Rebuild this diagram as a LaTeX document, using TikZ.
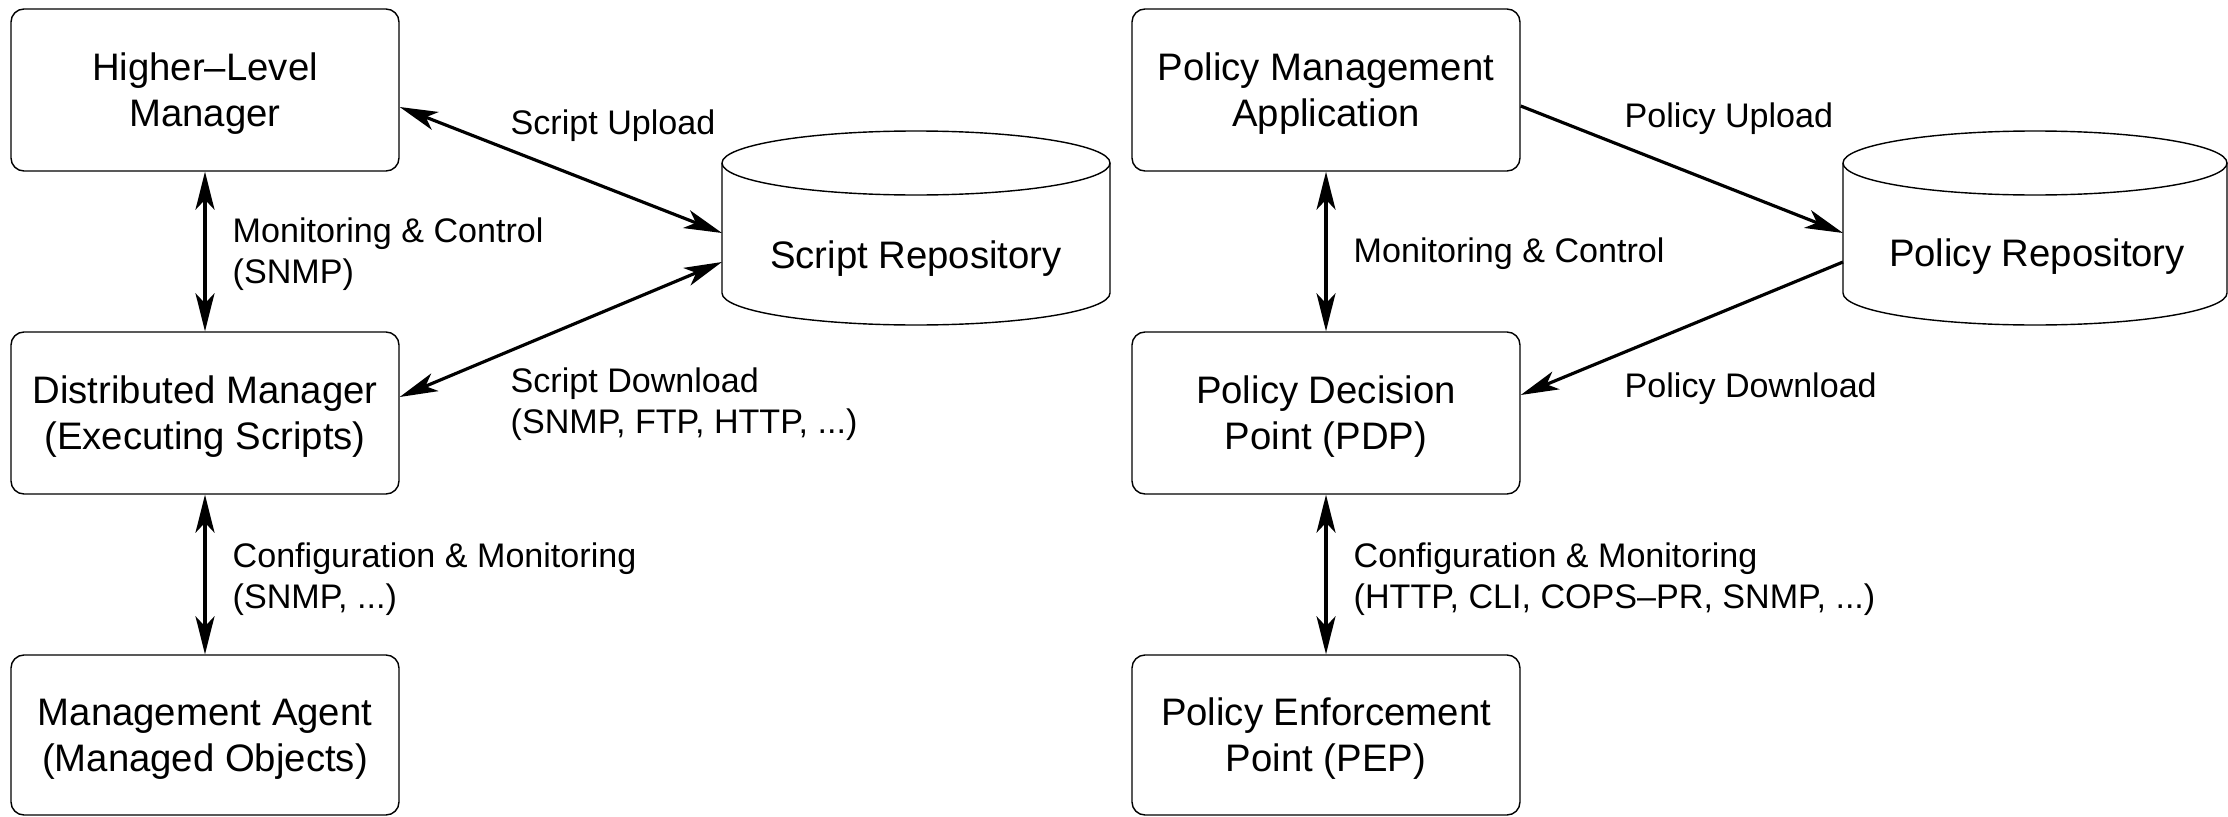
\documentclass[tikz,border=0pt]{standalone}
\usepackage{fontspec}
\setmainfont{Liberation Sans}
\usetikzlibrary{arrows.meta}

\begin{document}
\begin{tikzpicture}[
        >={Stealth[length=3.8mm,width=1.9mm,inset=1mm]},
        box/.style={draw, line width=0.4pt, rounded corners=1.3mm, minimum width=3.88cm, minimum height=1.62cm, align=center, inner sep=0pt, text height=23.3pt, text depth=2.3pt, font=\fontsize{10.9pt}{13.1pt}\selectfont},
        repotext/.style={inner sep=0pt, font=\fontsize{10.9pt}{13.1pt}\selectfont},
        lbl/.style={anchor=west, inner sep=0pt, align=left, font=\fontsize{9.7pt}{11.65pt}\selectfont},
        link/.style={line width=0.9pt, <->},
        push/.style={line width=0.9pt, ->},
    ]
        \useasboundingbox (0,0) rectangle (22.28,8.16);

        % Script based management (left)
        \node[box] (hlm) at (2.05,7.26) {Higher–Level\\Manager};
        \node[box] (dm) at (2.05,4.03) {Distributed Manager\\(Executing Scripts)};
        \node[box, minimum height=1.6cm] (ma) at (2.05,0.81) {Management Agent\\(Managed Objects)};

        % script repository drum
        \draw[line width=0.4pt] (9.16,6.53) ellipse [x radius=1.94, y radius=0.32];
        \draw[line width=0.4pt] (7.22,6.53) -- (7.22,5.23) arc [start angle=180, end angle=360, x radius=1.94, y radius=0.32] -- (11.10,6.53);
        \node[repotext] (srep) at (9.16,5.57) {Script Repository};
        \coordinate (srepup) at (7.22,5.83);
        \coordinate (srepdown) at (7.22,5.54);

        % connectors
        \draw[link] ([yshift=-1.7mm]hlm.east) -- (srepup);
        \draw[link] (srepdown) -- ([yshift=1.6mm]dm.east);
        \draw[link] (hlm.south) -- (dm.north);
        \draw[link] (dm.south) -- (ma.north);

        % labels
        \node[lbl] (supl) at (5.10,6.90) {Script Upload};
        \node[lbl] (sdl) at (5.10,4.12) {Script Download\\(SNMP, FTP, HTTP, ...)};
        \node[lbl] (smc) at (2.32,5.62) {Monitoring \& Control\\(SNMP)};
        \node[lbl] (scm) at (2.32,2.37) {Configuration \& Monitoring\\(SNMP, ...)};

        % Policy based management (right)
        \node[box] (pma) at (13.26,7.26) {Policy Management\\Application};
        \node[box] (pdp) at (13.26,4.03) {Policy Decision\\Point (PDP)};
        \node[box, minimum height=1.6cm] (pep) at (13.26,0.81) {Policy Enforcement\\Point (PEP)};

        % policy repository drum
        \draw[line width=0.4pt] (20.35,6.53) ellipse [x radius=1.92, y radius=0.32];
        \draw[line width=0.4pt] (18.43,6.53) -- (18.43,5.23) arc [start angle=180, end angle=360, x radius=1.92, y radius=0.32] -- (22.27,6.53);
        \node[repotext] (prep) at (20.37,5.59) {Policy Repository};
        \coordinate (prepup) at (18.43,5.83);
        \coordinate (prepdown) at (18.43,5.54);

        % connectors
        \draw[push] ([yshift=-1.6mm]pma.east) -- (prepup);
        \draw[push] (prepdown) -- ([yshift=1.8mm]pdp.east);
        \draw[link] (pma.south) -- (pdp.north);
        \draw[link] (pdp.south) -- (pep.north);

        % labels
        \node[lbl] (pupl) at (16.24,6.97) {Policy Upload};
        \node[lbl] (pdl) at (16.24,4.27) {Policy Download};
        \node[lbl] (pmc) at (13.53,5.62) {Monitoring \& Control};
        \node[lbl] (pcm) at (13.53,2.37) {Configuration \& Monitoring\\(HTTP, CLI, COPS–PR, SNMP, ...)};
    \end{tikzpicture}
\end{document}
